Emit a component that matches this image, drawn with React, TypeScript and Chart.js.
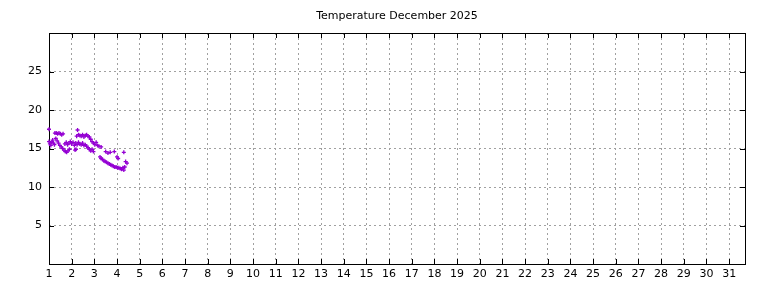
import React, { useEffect, useRef } from "react";
import { Chart, registerables } from "chart.js";

Chart.register(...registerables);

const TITLE = "Temperature December 2025";
const X_TICKS = Array.from({ length: 31 }, (_, i) => i + 1);
const Y_TICKS = [5, 10, 15, 20, 25];

const DAYS = [
  1.0,
  1.0, 1.04, 1.08, 1.12, 1.16, 1.2, 1.24,
  1.26, 1.32, 1.38, 1.44, 1.5, 1.56, 1.62,
  1.3, 1.36, 1.42, 1.48, 1.54, 1.6, 1.66, 1.72, 1.78, 1.84, 1.9,
  1.7, 1.76, 1.82, 1.88, 1.94, 2.0, 2.06, 2.12, 2.18, 2.24, 2.3, 2.36, 2.42, 2.48, 2.54, 2.6, 2.66,
  2.15, 2.19,
  2.26,
  2.22, 2.3, 2.36, 2.42, 2.48, 2.54, 2.6, 2.66, 2.72, 2.78,
  2.84, 2.9, 2.96, 3.02, 3.08, 3.14, 3.2,
  2.72, 2.78, 2.84, 2.9, 2.96,
  3.3,
  3.25, 3.3, 3.36, 3.42, 3.48, 3.54, 3.6, 3.66, 3.72, 3.78, 3.84, 3.9, 3.96, 4.02, 4.08, 4.14, 4.2, 4.26, 4.3, 4.34,
  3.5, 3.6, 3.7, 3.88, 4.0, 4.05, 4.3, 4.38, 4.44,
];
const TEMPS = [
  17.5,
  15.9, 15.6, 15.4, 15.8, 16.1, 15.7, 15.5,
  17.0, 17.0, 16.9, 17.0, 16.9, 16.8, 16.9,
  16.3, 16.0, 15.7, 15.4, 15.2, 15.0, 14.8, 14.6, 14.5, 14.7, 14.9,
  15.6, 15.8, 15.5, 15.7, 15.9, 15.6, 15.8, 15.4, 15.7, 15.5, 15.8, 15.6, 15.5, 15.7, 15.4, 15.5, 15.3,
  14.8, 14.9,
  17.4,
  16.6, 16.8, 16.7, 16.6, 16.8, 16.5, 16.7, 16.8, 16.6, 16.5,
  16.2, 15.9, 15.7, 15.5, 15.8, 15.4, 15.3,
  15.1, 14.9, 14.7, 14.9, 14.6,
  15.2,
  13.9, 13.7, 13.6, 13.4, 13.3, 13.2, 13.1, 13.0, 12.9, 12.8, 12.7, 12.6, 12.6, 12.5, 12.5, 12.4, 12.3, 12.5, 12.2, 12.6,
  14.6, 14.4, 14.5, 14.6, 13.9, 13.7, 14.5, 13.3, 13.1,
];

const FONT = "'DejaVu Sans', sans-serif";

const innerTicks = {
  id: "innerTicks",
  beforeDatasetsDraw(chart: any) {
    const { ctx, chartArea: a, scales } = chart;
    const len = 5;
    ctx.save();
    ctx.strokeStyle = "#000";
    ctx.lineWidth = 1;
    ctx.beginPath();
    for (const t of scales.x.ticks) {
      const px = Math.round(scales.x.getPixelForValue(t.value)) + 0.5;
      ctx.moveTo(px, a.bottom);
      ctx.lineTo(px, a.bottom - len);
      ctx.moveTo(px, a.top);
      ctx.lineTo(px, a.top + len);
    }
    for (const t of scales.y.ticks) {
      const py = Math.round(scales.y.getPixelForValue(t.value)) + 0.5;
      ctx.moveTo(a.left, py);
      ctx.lineTo(a.left + len, py);
      ctx.moveTo(a.right, py);
      ctx.lineTo(a.right - len, py);
    }
    ctx.stroke();
    ctx.strokeRect(Math.round(a.left) + 0.5, Math.round(a.top) + 0.5, Math.round(a.right - a.left), Math.round(a.bottom - a.top));
    ctx.restore();
  },
};

export default function App() {
  const ref = useRef<HTMLCanvasElement>(null);
  useEffect(() => {
    if (!ref.current) return;
    const data = DAYS.map((d, i) => ({ x: d, y: TEMPS[i] }));
    const chart = new Chart(ref.current, {
      type: "scatter",
      data: {
        datasets: [
          {
            data,
            clip: false,
            pointStyle: "cross",
            pointRadius: 2,
            pointBorderWidth: 1.3,
            borderColor: "#9400d3",
            backgroundColor: "#9400d3",
            showLine: false,
          },
        ],
      },
      options: {
        animation: false,
        responsive: false,
        maintainAspectRatio: false,
        layout: { padding: { left: 0, right: 23, top: 0, bottom: 0 } },
        plugins: {
          legend: { display: false },
          tooltip: { enabled: false },
          title: {
            display: true,
            fullSize: false,
            text: TITLE,
            color: "#000",
            font: { family: FONT, size: 11, weight: "normal", lineHeight: 1.2 },
            padding: { top: 10, bottom: 9.8 },
          },
        },
        scales: {
          x: {
            type: "linear",
            min: 1,
            max: 31.7,
            afterBuildTicks: (s: any) => {
              s.ticks = X_TICKS.map((v) => ({ value: v }));
            },
            afterFit: (s: any) => {
              s.height = 24;
            },
            ticks: {
              color: "#000",
              font: { family: FONT, size: 11 },
              padding: 4,
              maxRotation: 0,
              autoSkip: false,
              callback: (v: any) => String(v),
            },
            grid: {
              color: "#a0a0a0",
              drawTicks: false,
            },
            border: { display: false, dash: [2, 3] },
          },
          y: {
            type: "linear",
            min: 0,
            max: 30,
            afterBuildTicks: (s: any) => {
              s.ticks = Y_TICKS.map((v) => ({ value: v }));
            },
            afterFit: (s: any) => {
              s.width = 49;
            },
            ticks: {
              color: "#000",
              font: { family: FONT, size: 11 },
              padding: 7,
              callback: (v: any) => String(v),
            },
            grid: {
              color: "#a0a0a0",
              drawTicks: false,
            },
            border: { display: false, dash: [2, 3] },
          },
        },
      },
      plugins: [innerTicks],
    });
    return () => chart.destroy();
  }, []);
  return (
    <div style={{ position: "fixed", left: 0, top: 0, width: 768, height: 288, background: "#fff" }}>
      <canvas ref={ref} width={768} height={288} style={{ width: 768, height: 288 }} />
    </div>
  );
}
